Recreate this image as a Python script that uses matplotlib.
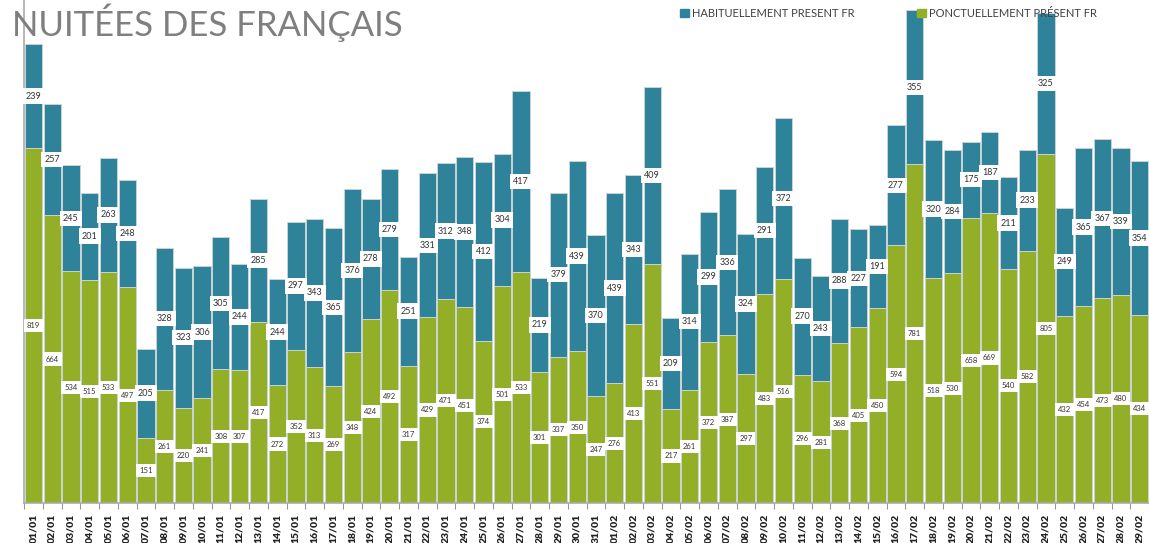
import matplotlib.pyplot as plt
import numpy as np
from matplotlib.patches import Patch

plt.rcParams['font.family'] = ['Lato', 'DejaVu Sans']

dates = ['01/01', '02/01', '03/01', '04/01', '05/01', '06/01', '07/01', '08/01', '09/01', '10/01',
         '11/01', '12/01', '13/01', '14/01', '15/01', '16/01', '17/01', '18/01', '19/01', '20/01',
         '21/01', '22/01', '23/01', '24/01', '25/01', '26/01', '27/01', '28/01', '29/01', '30/01',
         '31/01', '01/02', '02/02', '03/02', '04/02', '05/02', '06/02', '07/02', '08/02', '09/02',
         '10/02', '11/02', '12/02', '13/02', '14/02', '15/02', '16/02', '17/02', '18/02', '19/02',
         '20/02', '21/02', '22/02', '23/02', '24/02', '25/02', '26/02', '27/02', '28/02', '29/02']

# ponctuellement present (green, bottom)
ponctuel = [819, 664, 534, 515, 533, 497, 151, 261, 220, 241,
            308, 307, 417, 272, 352, 313, 269, 348, 424, 492,
            317, 429, 471, 451, 374, 501, 533, 301, 337, 350,
            247, 276, 413, 551, 217, 261, 372, 387, 297, 483,
            516, 296, 281, 368, 405, 450, 594, 781, 518, 530,
            658, 669, 540, 582, 805, 432, 454, 473, 480, 434]

# habituellement present (blue, top)
habituel = [239, 257, 245, 201, 263, 248, 205, 328, 323, 306,
            305, 244, 285, 244, 297, 343, 365, 376, 278, 279,
            251, 331, 312, 348, 412, 304, 417, 219, 379, 439,
            370, 439, 343, 409, 209, 314, 299, 336, 324, 291,
            372, 270, 243, 288, 227, 191, 277, 355, 320, 284,
            175, 187, 211, 233, 325, 249, 365, 367, 339, 354]

BLUE = '#2e839b'
GREEN = '#93af27'

W, H = 1149, 543
fig = plt.figure(figsize=(W / 100, H / 100), dpi=100)
ax = fig.add_axes([24 / W, 40 / H, (W - 24) / W, 503 / H])

x = np.arange(len(dates))
ponctuel = np.array(ponctuel)
habituel = np.array(habituel)

ax.bar(x, ponctuel, width=0.92, color=GREEN, edgecolor='#c9d3d6', linewidth=0.7, zorder=2)
ax.bar(x, habituel, bottom=ponctuel, width=0.92, color=BLUE, edgecolor='#c9d3d6', linewidth=0.7, zorder=2)

for i in x:
    ax.text(i, ponctuel[i] / 2, str(ponctuel[i]), ha='center', va='center', fontsize=5.5,
            color='#333333', zorder=4,
            bbox=dict(boxstyle='square,pad=0.4', fc='white', ec='none'))
    ax.text(i, ponctuel[i] + habituel[i] / 2, str(habituel[i]), ha='center', va='center',
            fontsize=6.5, color='#333333', zorder=4,
            bbox=dict(boxstyle='square,pad=0.35', fc='white', ec='none'))

ax.set_xlim(-0.5, len(dates) - 0.5)
ax.set_ylim(0, 1160)
ax.set_xticks(x)
ax.set_xticklabels(dates, rotation=90, fontsize=7.5, fontweight='heavy', color='#222222')
ax.set_xticks(np.arange(-0.5, len(dates), 1), minor=True)
ax.tick_params(axis='x', which='major', length=0, pad=8)
ax.tick_params(axis='x', which='minor', length=4, color='#999999', width=0.8)
ax.set_yticks([])
for s in ['top', 'right']:
    ax.spines[s].set_visible(False)
for s in ['left', 'bottom']:
    ax.spines[s].set_color('#aaaaaa')
    ax.spines[s].set_linewidth(1.2)
ax.patch.set_alpha(0)

fig.text(12 / W, 1 - 3 / H, 'NUITÉES DES FRANÇAIS', fontsize=25, color='#7f7f7f',
         ha='left', va='top', zorder=5)

handles = [Patch(color=BLUE), Patch(color=GREEN)]
labels = ['HABITUELLEMENT PRESENT FR', 'PONCTUELLEMENT PRÉSENT FR']
leg = fig.legend(handles, labels, ncol=2, loc='upper left', bbox_to_anchor=(670 / W, 1 + 2 / H),
                 frameon=False, fontsize=8, handlelength=0.8, handleheight=0.8, handletextpad=0.3,
                 columnspacing=5.6, labelcolor='#404040')
leg.set_zorder(6)

fig.savefig('out.png', dpi=100)
